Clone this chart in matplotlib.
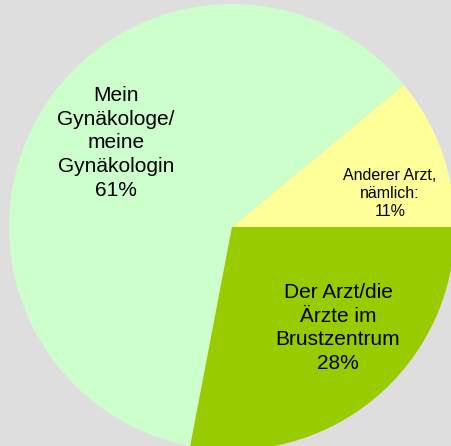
import matplotlib
matplotlib.use("Agg")
import matplotlib.pyplot as plt

# data
labels = ["Anderer Arzt,\nnämlich:\n11%",
          "Mein\nGynäkologe/\nmeine\nGynäkologin\n61%",
          "Der Arzt/die\nÄrzte im\nBrustzentrum\n28%"]
shares = [11, 61, 28]
colors = ["#ffff99", "#ccffcc", "#99cc00"]

plt.rcParams['font.family'] = ['Liberation Sans', 'DejaVu Sans']

fig = plt.figure(figsize=(4.52, 4.46), dpi=100)
fig.patch.set_facecolor("#dedede")
ax = fig.add_axes([0, 0, 1, 1])
ax.set_facecolor("#dedede")

# pixel-like coordinates, y up
cx, cy, r = 232, 446 - 227, 223
wedges, _ = ax.pie(shares, colors=colors, startangle=0, counterclock=True,
                   center=(cx, cy), radius=r, frame=True,
                   wedgeprops=dict(linewidth=0))

# label positions (offsets from centre, in pixels)
label_pos = [(158, 34), (-116, 84), (106, -101)]
label_size = [11.5, 15, 15]
label_lsp = [1.25, 1.32, 1.32]
for txt, (dx, dy), fs, ls in zip(labels, label_pos, label_size, label_lsp):
    ax.text(cx + dx, cy + dy, txt, ha="center", va="center",
            fontsize=fs, linespacing=ls, color="black")

ax.set_xlim(0, 452)
ax.set_ylim(0, 446)
ax.set_aspect("auto")
ax.axis("off")

fig.savefig("out.png", dpi=100, facecolor=fig.get_facecolor())
